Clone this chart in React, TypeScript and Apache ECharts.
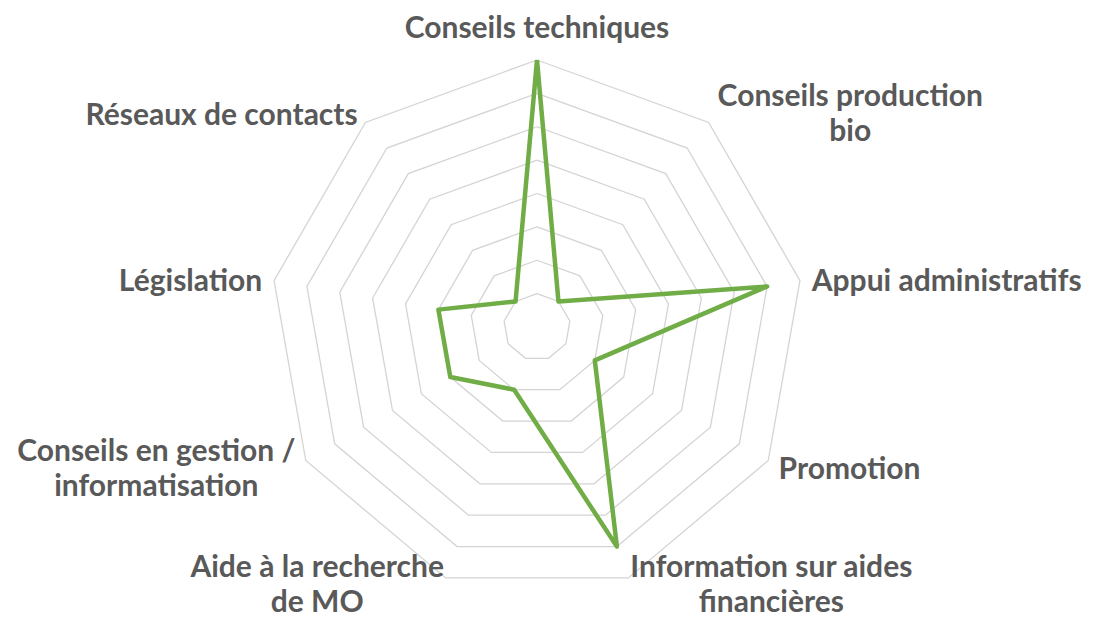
import React, { useEffect, useRef } from "react";
import * as echarts from "echarts";

// Categories in clockwise order starting from the top
const categories = [
  "Conseils techniques",
  "Conseils production\nbio",
  "Appui administratifs",
  "Promotion",
  "Information sur aides\nfinancières",
  "Aide à la recherche\nde MO",
  "Conseils en gestion /\ninformatisation",
  "Législation",
  "Réseaux de contacts",
];
const values = [8, 1, 7, 2, 7, 2, 3, 3, 1];
const axisMax = 8;
const splitCount = 8;
// distance between each category name and the outer ring
const nameGaps = [17, 14, 12, 12, 5, 5, 12, 12, 12];

// ECharts places radar indicators counterclockwise; reorder to get clockwise
const ccw = <T,>(arr: T[]): T[] => [arr[0], ...arr.slice(1).reverse()];

export default function App() {
  const ref = useRef<HTMLDivElement>(null);
  useEffect(() => {
    document.body.style.margin = "0";
    if (!ref.current) return;
    const chart = echarts.init(ref.current, undefined, { renderer: "svg" });
    const textStyle = {
      color: "#595959",
      fontFamily: "Lato",
      fontWeight: "bold",
      fontSize: 30,
      lineHeight: 35,
    };
    const gaps = ccw(nameGaps);
    chart.setOption({
      animation: false,
      backgroundColor: "#ffffff",
      radar: {
        center: [537, 327],
        radius: 267,
        startAngle: 90,
        shape: "polygon",
        splitNumber: splitCount,
        nameGap: 12,
        indicator: ccw(categories).map((c, i) => ({
          name: c,
          min: 0,
          max: axisMax,
          nameGap: gaps[i],
        })),
        axisName: {
          ...textStyle,
          formatter: (name: string) =>
            name
              .split("\n")
              .map((l) => "{c|" + l + "}")
              .join("\n"),
          rich: {
            c: { ...textStyle, align: "center" },
          },
        },
        axisLine: { show: false },
        axisTick: { show: false },
        axisLabel: { show: false },
        splitArea: { show: false },
        splitLine: { lineStyle: { color: "#d4d4d4", width: 1.3 } },
      },
      series: [
        {
          type: "radar",
          symbol: "none",
          lineStyle: { color: "#70ad47", width: 4.5, join: "round" },
          data: [{ value: ccw(values), name: "Série" }],
        },
      ],
    });
    return () => chart.dispose();
  }, []);
  return <div ref={ref} style={{ width: 1093, height: 620 }} />;
}
